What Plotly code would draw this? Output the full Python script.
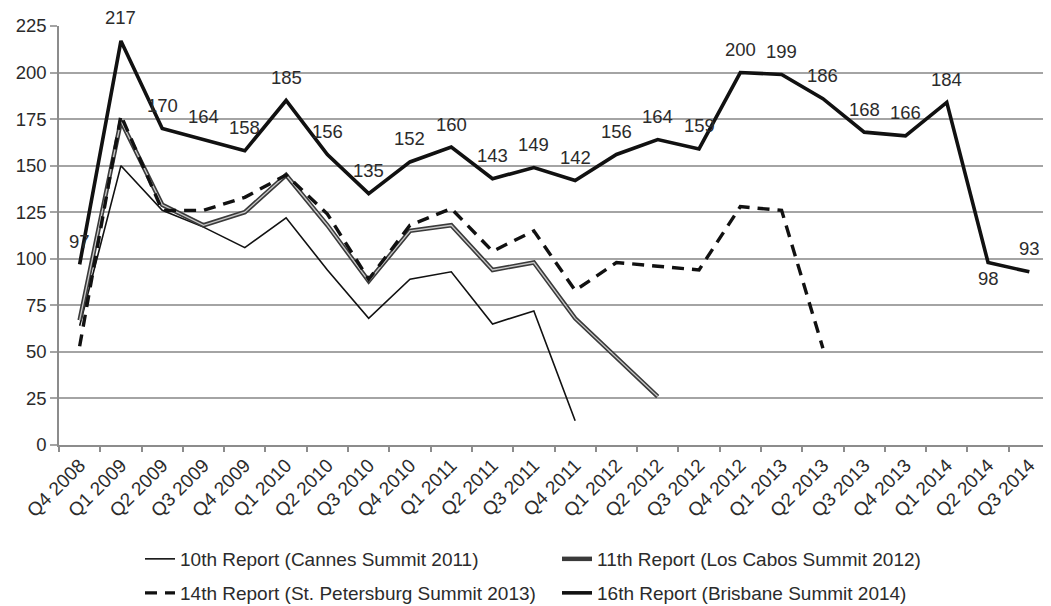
import plotly.graph_objects as go

quarters = ["Q4 2008", "Q1 2009", "Q2 2009", "Q3 2009", "Q4 2009", "Q1 2010", "Q2 2010",
            "Q3 2010", "Q4 2010", "Q1 2011", "Q2 2011", "Q3 2011", "Q4 2011", "Q1 2012",
            "Q2 2012", "Q3 2012", "Q4 2012", "Q1 2013", "Q2 2013", "Q3 2013", "Q4 2013",
            "Q1 2014", "Q2 2014", "Q3 2014"]

cannes_2011 = [64, 150, 126, 117, 106, 122, 94, 68, 89, 93, 65, 72, 13]
loscabos_2012 = [67, 174, 129, 118, 125, 145, 118, 88, 115, 118, 94, 98, 68, 47, 26]
stpete_2013 = [53, 177, 126, 126, 133, 145, 124, 89, 118, 127, 104, 115, 83, 98, 96, 94,
               128, 126, 52]
brisbane_2014 = [97, 217, 170, 164, 158, 185, 156, 135, 152, 160, 143, 149, 142, 156, 164,
                 159, 200, 199, 186, 168, 166, 184, 98, 93]

names = ["10th Report (Cannes Summit 2011)", "11th Report (Los Cabos Summit 2012)",
         "14th Report (St. Petersburg Summit 2013)", "16th Report (Brisbane Summit 2014)"]

FONT = "Liberation Sans, Arial, sans-serif"
TXT = "#2b2b2b"
W, H = 1043, 598  # page body has an 8px margin

fig = go.Figure()

fig.add_trace(go.Scatter(x=quarters[:len(cannes_2011)], y=cannes_2011, mode="lines",
                         name=names[0], legend="legend",
                         line=dict(color="#111111", width=1.6)))
fig.add_trace(go.Scatter(x=quarters[:len(loscabos_2012)], y=loscabos_2012, mode="lines",
                         name=names[1], legend="legend",
                         line=dict(color="#3a3a3a", width=4.5)))
fig.add_trace(go.Scatter(x=quarters[:len(loscabos_2012)], y=loscabos_2012, mode="lines",
                         showlegend=False, hoverinfo="skip",
                         line=dict(color="#c8c8c8", width=1.3)))
fig.add_trace(go.Scatter(x=quarters[:len(stpete_2013)], y=stpete_2013, mode="lines",
                         name=names[2], legend="legend2",
                         line=dict(color="#111111", width=3.4, dash="12px,8px")))
fig.add_trace(go.Scatter(x=quarters, y=brisbane_2014, mode="lines",
                         name=names[3], legend="legend2",
                         line=dict(color="#111111", width=3.6)))

# data labels on the Brisbane series
for i, (q, v) in enumerate(zip(quarters, brisbane_2014)):
    below = (i == 22)
    fig.add_annotation(x=q, y=v, text=str(v), showarrow=False,
                       xanchor="center", yanchor="middle",
                       yshift=-16 if below else 23,
                       font=dict(family=FONT, size=18.5, color=TXT))

legend_common = dict(orientation="h", xref="container", yref="container",
                     x=132 / W, xanchor="left", yanchor="middle",
                     entrywidth=372, entrywidthmode="pixels",
                     font=dict(family=FONT, size=19, color=TXT),
                     bgcolor="rgba(0,0,0,0)", traceorder="normal")

fig.update_layout(
    width=W, height=H,
    margin=dict(l=51, r=1, t=18, b=161, autoexpand=False),
    paper_bgcolor="white", plot_bgcolor="white",
    font=dict(family=FONT, size=14, color=TXT),
    legend=dict(legend_common, y=1 - 551 / H),
    legend2=dict(legend_common, y=1 - 585 / H),
    showlegend=True,
)
fig.update_xaxes(type="category", categoryorder="array", categoryarray=quarters,
                 range=[-0.5, 23.5], tickangle=-45, tickson="boundaries",
                 ticks="outside", ticklen=5, tickcolor="#8c8c8c", tickwidth=1.5,
                 showline=True, linecolor="#8c8c8c", linewidth=1.5,
                 showgrid=False, tickfont=dict(family=FONT, size=19, color=TXT))
fig.update_yaxes(range=[0, 225], tickvals=list(range(0, 226, 25)),
                 showgrid=True, gridcolor="#a4a4a4", gridwidth=1.6,
                 showline=True, linecolor="#8c8c8c", linewidth=1.5,
                 ticks="outside", ticklen=7, tickcolor="#a4a4a4", tickwidth=1.5,
                 zeroline=False, tickfont=dict(family=FONT, size=18.5, color=TXT))

fig.write_html("out.html")
